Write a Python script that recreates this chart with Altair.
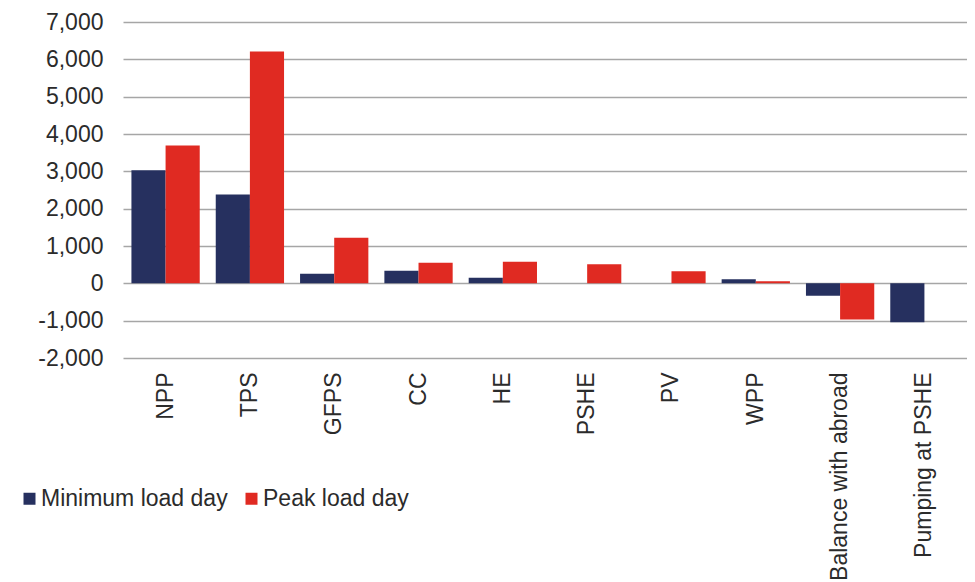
import altair as alt
import pandas as pd

categories = ["NPP", "TPS", "GFPS", "CC", "HE", "PSHE", "PV", "WPP",
              "Balance with abroad", "Pumping at PSHE"]
series_names = ["Minimum load day", "Peak load day"]
min_load = [3030, 2380, 260, 335, 147, 0, 0, 112, -335, -1040]
peak_load = [3690, 6210, 1220, 549, 576, 514, 327, 59, -970, 0]
y_ticks = [-2000, -1000, 0, 1000, 2000, 3000, 4000, 5000, 6000, 7000]
colors = ["#26305F", "#E02A22"]

rows = []
for c, a, b in zip(categories, min_load, peak_load):
    rows.append({"cat": c, "series": series_names[0], "value": a})
    rows.append({"cat": c, "series": series_names[1], "value": b})
df = pd.DataFrame(rows)

FONT = "Liberation Sans"
FS = 23

chart = alt.Chart(df).mark_bar().encode(
    x=alt.X("cat:N", sort=categories, title=None,
            scale=alt.Scale(paddingInner=0.19, paddingOuter=0.1),
            axis=alt.Axis(labelAngle=-90, labelFontSize=FS, labelFont=FONT,
                          labelColor="#2B2B2B", ticks=False, domain=False,
                          labelPadding=14, labelAlign="right", labelLimit=0,
                          labelBaseline="middle", grid=False)),
    xOffset=alt.XOffset("series:N", sort=series_names),
    y=alt.Y("value:Q", title=None,
            scale=alt.Scale(domain=[-2000, 7000], nice=False),
            axis=alt.Axis(values=y_ticks, labelFontSize=FS, labelFont=FONT,
                          labelColor="#2B2B2B", ticks=False, domain=False,
                          labelPadding=20, grid=True, gridColor="#A6A6A6",
                          gridWidth=1.5,
                          labelExpr="datum.value < 0 ? '-' + format(-datum.value, ',') : format(datum.value, ',')")),
    color=alt.Color("series:N", sort=series_names,
                    scale=alt.Scale(domain=series_names, range=colors),
                    legend=alt.Legend(title=None, orient="none", direction="horizontal",
                                      legendX=-105, legendY=465, symbolType="square",
                                      symbolSize=144, symbolStrokeWidth=0,
                                      labelFontSize=FS, labelFont=FONT, labelLimit=0,
                                      labelColor="#2B2B2B", columnPadding=12,
                                      labelOffset=0, padding=0)),
).properties(
    width=844, height=336,
    autosize=alt.AutoSizeParams(type="none"),
    padding={"left": 115, "top": 14, "right": 0, "bottom": 224},
).configure_view(stroke=None)

chart.save("out.html", embed_options={"renderer": "svg", "actions": False})
